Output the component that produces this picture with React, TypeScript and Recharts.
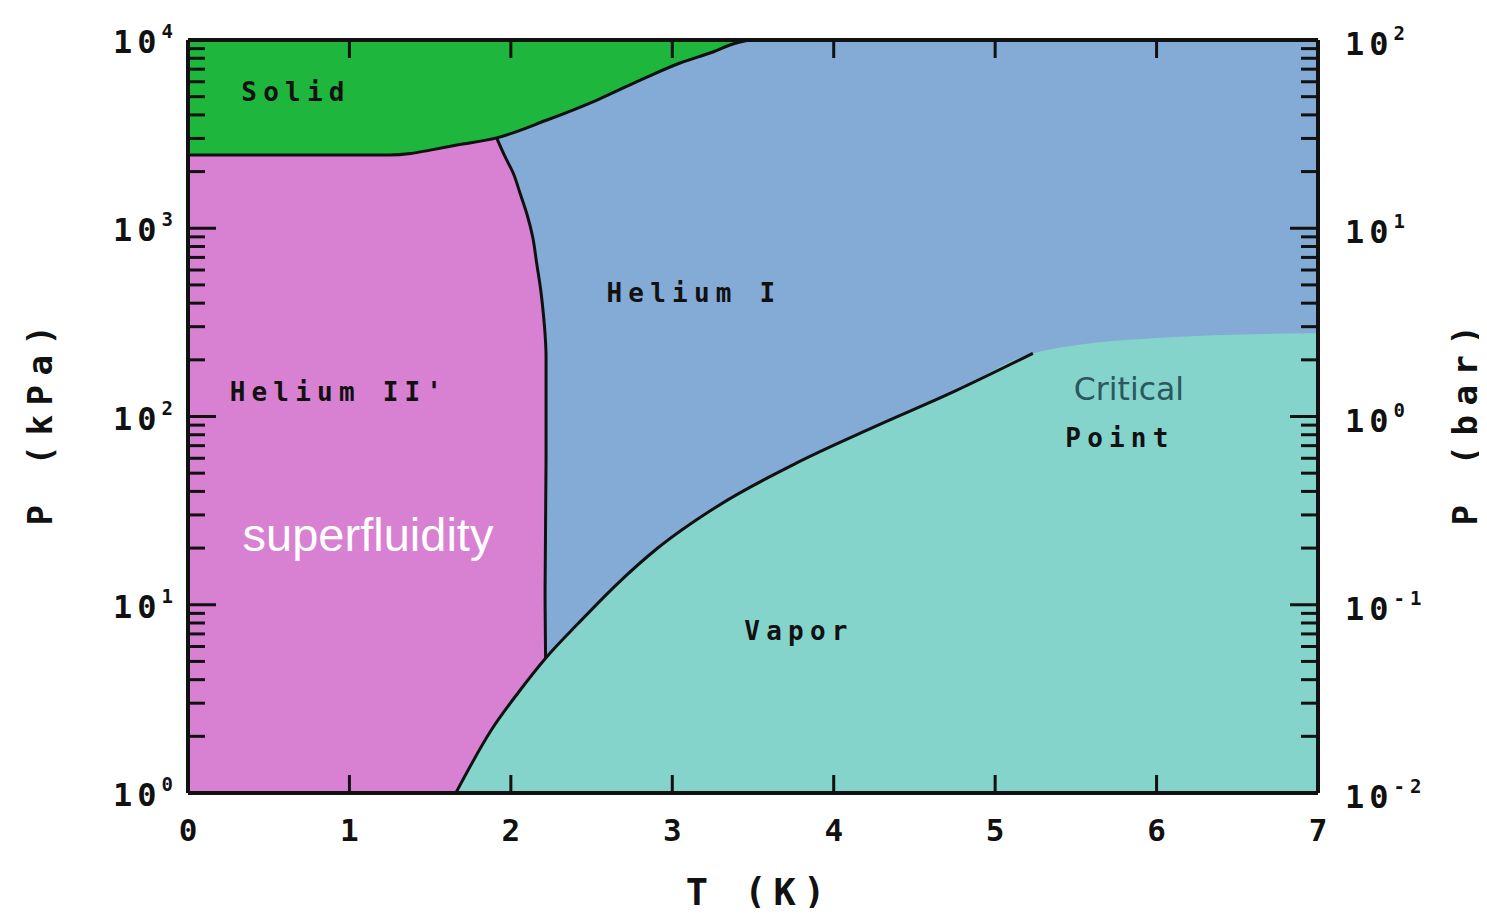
import React from 'react';
import { ComposedChart, Area, Line, XAxis, YAxis, ReferenceDot } from 'recharts';

// ---------- axis ticks ----------
const temperatureTicks = [0, 1, 2, 3, 4, 5, 6, 7];
const topTicks = [1, 2, 3, 4, 5, 6];
const kPaDecades = [1, 10, 100, 1000, 10000];
const barDecades = [0.01, 0.1, 1, 10, 100];
const minorSteps = [1, 2, 3, 4, 5, 6, 7, 8, 9];

// ---------- phase boundaries (T in K, P in kPa) ----------
const solidTop = [
  { T: 0, P: 10000 },
  { T: 7, P: 10000 },
];

const meltingCurve = [
  { T: 0, P: 2450 },
  { T: 0.6, P: 2450 },
  { T: 1.25, P: 2450 },
  { T: 1.38, P: 2495 },
  { T: 1.5, P: 2600 },
  { T: 1.666, P: 2767 },
  { T: 1.912, P: 3020 },
  { T: 2.224, P: 3758 },
  { T: 2.534, P: 4800 },
  { T: 2.843, P: 6358 },
  { T: 3.048, P: 7548 },
  { T: 3.252, P: 8635 },
  { T: 3.376, P: 9520 },
  { T: 3.48, P: 10000 },
];

const meltingTail = [{ T: 7, P: 10000 }];

const lambdaLine = [
  { T: 1.912, P: 3020 },
  { T: 1.964, P: 2399 },
  { T: 2.015, P: 1959 },
  { T: 2.057, P: 1534 },
  { T: 2.098, P: 1202 },
  { T: 2.135, P: 902 },
  { T: 2.16, P: 651 },
  { T: 2.185, P: 470 },
  { T: 2.201, P: 353 },
  { T: 2.213, P: 265 },
  { T: 2.218, P: 208 },
  { T: 2.218, P: 60 },
  { T: 2.212, P: 12 },
  { T: 2.215, P: 5.2 },
];

const vaporCurve = [
  { T: 1.659, P: 1.0 },
  { T: 1.879, P: 2.16 },
  { T: 2.05, P: 3.45 },
  { T: 2.215, P: 5.2 },
  { T: 2.418, P: 7.97 },
  { T: 2.663, P: 13.0 },
  { T: 2.908, P: 19.95 },
  { T: 3.275, P: 33.2 },
  { T: 3.765, P: 56.4 },
  { T: 4.254, P: 88.3 },
  { T: 4.744, P: 135.5 },
  { T: 5.234, P: 216.6 },
];

// blurred liquid/gas boundary above the critical point (no drawn line)
const supercriticalEdge = [
  { T: 6.0, P: 261 },
  { T: 7.0, P: 278 },
];

// ---------- annotations ----------
const regionLabels = [
  { text: 'Solid', T: 0.669, P: 5297, kind: 'mono' },
  { text: 'Helium I', T: 3.134, P: 453, kind: 'mono' },
  { text: "Helium II'", T: 0.935, P: 135, kind: 'mono' },
  { text: 'superfluidity', T: 1.115, P: 23.5, kind: 'white' },
  { text: 'Critical', T: 5.829, P: 140, kind: 'critical' },
  { text: 'Point', T: 5.773, P: 76.9, kind: 'mono' },
  { text: 'Vapor', T: 3.785, P: 7.26, kind: 'mono' },
];

const COLORS = {
  solid: '#1eb63c',
  heliumII: '#d880d1',
  heliumI: '#83abd6',
  vapor: '#84d4cc',
  ink: '#111111',
};

const MONO = "'DejaVu Sans Mono', monospace";

const labelStyles: Record<string, any> = {
  mono: { fontFamily: MONO, fontWeight: 'bold', fontSize: 26, letterSpacing: 6.2, fill: '#111' },
  white: { fontFamily: "'Liberation Sans', Arial, sans-serif", fontSize: 47, fill: '#ffffff' },
  critical: { fontFamily: "'DejaVu Sans', Verdana, sans-serif", fontSize: 31.5, fill: '#2b575e' },
};

const withMinors = (decades: number[]) => {
  const out: number[] = [];
  decades.forEach((d, i) => {
    if (i === decades.length - 1) {
      out.push(d);
    } else {
      minorSteps.forEach((m) => out.push(+(d * m).toPrecision(6)));
    }
  });
  return out;
};

const kPaTicks = withMinors(kPaDecades);
const barTicks = withMinors(barDecades);

const expOf = (v: number) => Math.round(Math.log10(v));
const isDecade = (v: number) => Math.abs(v / Math.pow(10, expOf(v)) - 1) < 1e-6;

const tickText = { fontFamily: MONO, fontWeight: 'bold', fill: '#111' } as const;

const LeftTick = (props: any) => {
  const { x, y, payload } = props;
  const v = payload.value;
  const major = isDecade(v);
  const e = expOf(v);
  const edge = v === kPaDecades[0] || v === kPaDecades[kPaDecades.length - 1];
  return (
    <g>
      {!edge && (
        <line x1={x} x2={x + (major ? 28 : 17)} y1={y} y2={y} stroke={COLORS.ink} strokeWidth={3} />
      )}
      {major && (
        <text x={x - 10} y={y + 13} textAnchor="end" fontSize={32} letterSpacing={5} {...tickText}>
          <tspan>10</tspan>
          <tspan dy={-15} fontSize={19}>{String(e)}</tspan>
        </text>
      )}
    </g>
  );
};

const RightTick = (props: any) => {
  const { x, y, payload } = props;
  const v = payload.value;
  const major = isDecade(v);
  const e = expOf(v);
  const edge = v === barDecades[0] || v === barDecades[barDecades.length - 1];
  return (
    <g>
      {!edge && (
        <line x1={x} x2={x - (major ? 28 : 17)} y1={y} y2={y} stroke={COLORS.ink} strokeWidth={3} />
      )}
      {major && (
        <text x={x + 27} y={y + 15} textAnchor="start" fontSize={32} letterSpacing={5} {...tickText}>
          <tspan>10</tspan>
          <tspan dy={-15} fontSize={19}>{e < 0 ? '-' + Math.abs(e) : String(e)}</tspan>
        </text>
      )}
    </g>
  );
};

const BottomTick = (props: any) => {
  const { x, y, payload } = props;
  const v = payload.value;
  const inner = v > temperatureTicks[0] && v < temperatureTicks[temperatureTicks.length - 1];
  return (
    <g>
      {inner && <line x1={x} x2={x} y1={y} y2={y - 18} stroke={COLORS.ink} strokeWidth={3} />}
      <text x={x} y={y + 48} textAnchor="middle" fontSize={31} {...tickText}>
        {String(v)}
      </text>
    </g>
  );
};

const TopTick = (props: any) => {
  const { x, y } = props;
  return <line x1={x} x2={x} y1={y} y2={y + 18} stroke={COLORS.ink} strokeWidth={3} />;
};

const titleStyle = { fontFamily: MONO, fontWeight: 'bold', fill: '#111' } as const;

const BottomTitle = (props: any) => {
  const vb = props.viewBox || { x: 180, y: 785, width: 1130, height: 100 };
  const cx = vb.x + vb.width / 2 + 6;
  const cy = vb.y + 99;
  return (
    <text x={cx} y={cy} textAnchor="middle" dominantBaseline="central" fontSize={37} letterSpacing={7} {...titleStyle}>
      T (K)
    </text>
  );
};

const SideTitle = (props: any) => {
  const { text, side } = props;
  const vb = props.viewBox || { x: 0, y: 32, width: 0, height: 753 };
  const cx = side === 'left' ? vb.x + 24 : vb.x + 147;
  const cy = vb.y + vb.height / 2 + 4;
  return (
    <text
      x={cx}
      y={cy}
      transform={`rotate(-90 ${cx} ${cy})`}
      textAnchor="middle"
      dominantBaseline="central"
      fontSize={34}
      letterSpacing={9.5}
      {...titleStyle}
    >
      {text}
    </text>
  );
};

export default function App() {
  return (
    <div style={{ width: 1479, height: 908, marginBottom: -8 }}>
      <ComposedChart width={1479} height={908} margin={{ top: 2, right: 14, bottom: 23, left: 8 }}>
        <Area data={solidTop} dataKey="P" type="linear" baseValue={1} fill={COLORS.solid} fillOpacity={1} stroke="none" isAnimationActive={false} dot={false} activeDot={false} />
        <Area data={[...meltingCurve, ...meltingTail]} dataKey="P" type="monotone" baseValue={1} fill={COLORS.heliumI} fillOpacity={1} stroke="none" isAnimationActive={false} dot={false} activeDot={false} />
        <Area
          data={[...meltingCurve.filter((d) => d.T < lambdaLine[0].T), ...lambdaLine]}
          dataKey="P"
          type="linear"
          baseValue={1}
          fill={COLORS.heliumII}
          fillOpacity={1}
          stroke="none"
          isAnimationActive={false}
          dot={false}
          activeDot={false}
        />
        <Area data={[...vaporCurve, ...supercriticalEdge]} dataKey="P" type="monotone" baseValue={1} fill={COLORS.vapor} fillOpacity={1} stroke="none" isAnimationActive={false} dot={false} activeDot={false} />

        <Line data={meltingCurve} dataKey="P" type="monotone" stroke={COLORS.ink} strokeWidth={3} dot={false} activeDot={false} isAnimationActive={false} />
        <Line data={lambdaLine} dataKey="P" type="monotoneY" stroke={COLORS.ink} strokeWidth={3} dot={false} activeDot={false} isAnimationActive={false} />
        <Line data={vaporCurve} dataKey="P" type="monotone" stroke={COLORS.ink} strokeWidth={3} dot={false} activeDot={false} isAnimationActive={false} />

        <XAxis
          xAxisId={0}
          dataKey="T"
          type="number"
          domain={[0, 7]}
          ticks={temperatureTicks}
          interval={0}
          allowDataOverflow
          height={100}
          tickSize={0}
          tickMargin={0}
          tickLine={false}
          axisLine={{ stroke: COLORS.ink, strokeWidth: 4 }}
          tick={<BottomTick />}
          label={<BottomTitle />}
        />
        <XAxis
          xAxisId="top"
          orientation="top"
          dataKey="T"
          type="number"
          domain={[0, 7]}
          ticks={topTicks}
          interval={0}
          allowDataOverflow
          height={30}
          tickSize={0}
          tickMargin={0}
          tickLine={false}
          axisLine={{ stroke: COLORS.ink, strokeWidth: 4 }}
          tick={<TopTick />}
        />
        <YAxis
          yAxisId={0}
          type="number"
          scale="log"
          domain={[1, 10000]}
          ticks={kPaTicks}
          interval={0}
          allowDataOverflow
          width={172}
          tickSize={0}
          tickMargin={0}
          tickLine={false}
          axisLine={{ stroke: COLORS.ink, strokeWidth: 4 }}
          tick={<LeftTick />}
          label={<SideTitle text="P (kPa)" side="left" />}
        />
        <YAxis
          yAxisId="right"
          orientation="right"
          type="number"
          scale="log"
          domain={[0.01, 100]}
          ticks={barTicks}
          interval={0}
          allowDataOverflow
          width={155}
          tickSize={0}
          tickMargin={0}
          tickLine={false}
          axisLine={{ stroke: COLORS.ink, strokeWidth: 4 }}
          tick={<RightTick />}
          label={<SideTitle text="P (bar)" side="right" />}
        />

        {regionLabels.map((l) => (
          <ReferenceDot
            key={l.text}
            x={l.T}
            y={l.P}
            r={0}
            ifOverflow="visible"
            shape={(p: any) => (
              <text
                x={p.cx}
                y={p.cy}
                textAnchor="middle"
                dominantBaseline="central"
                {...labelStyles[l.kind]}
              >
                {l.text}
              </text>
            )}
          />
        ))}
      </ComposedChart>
    </div>
  );
}
